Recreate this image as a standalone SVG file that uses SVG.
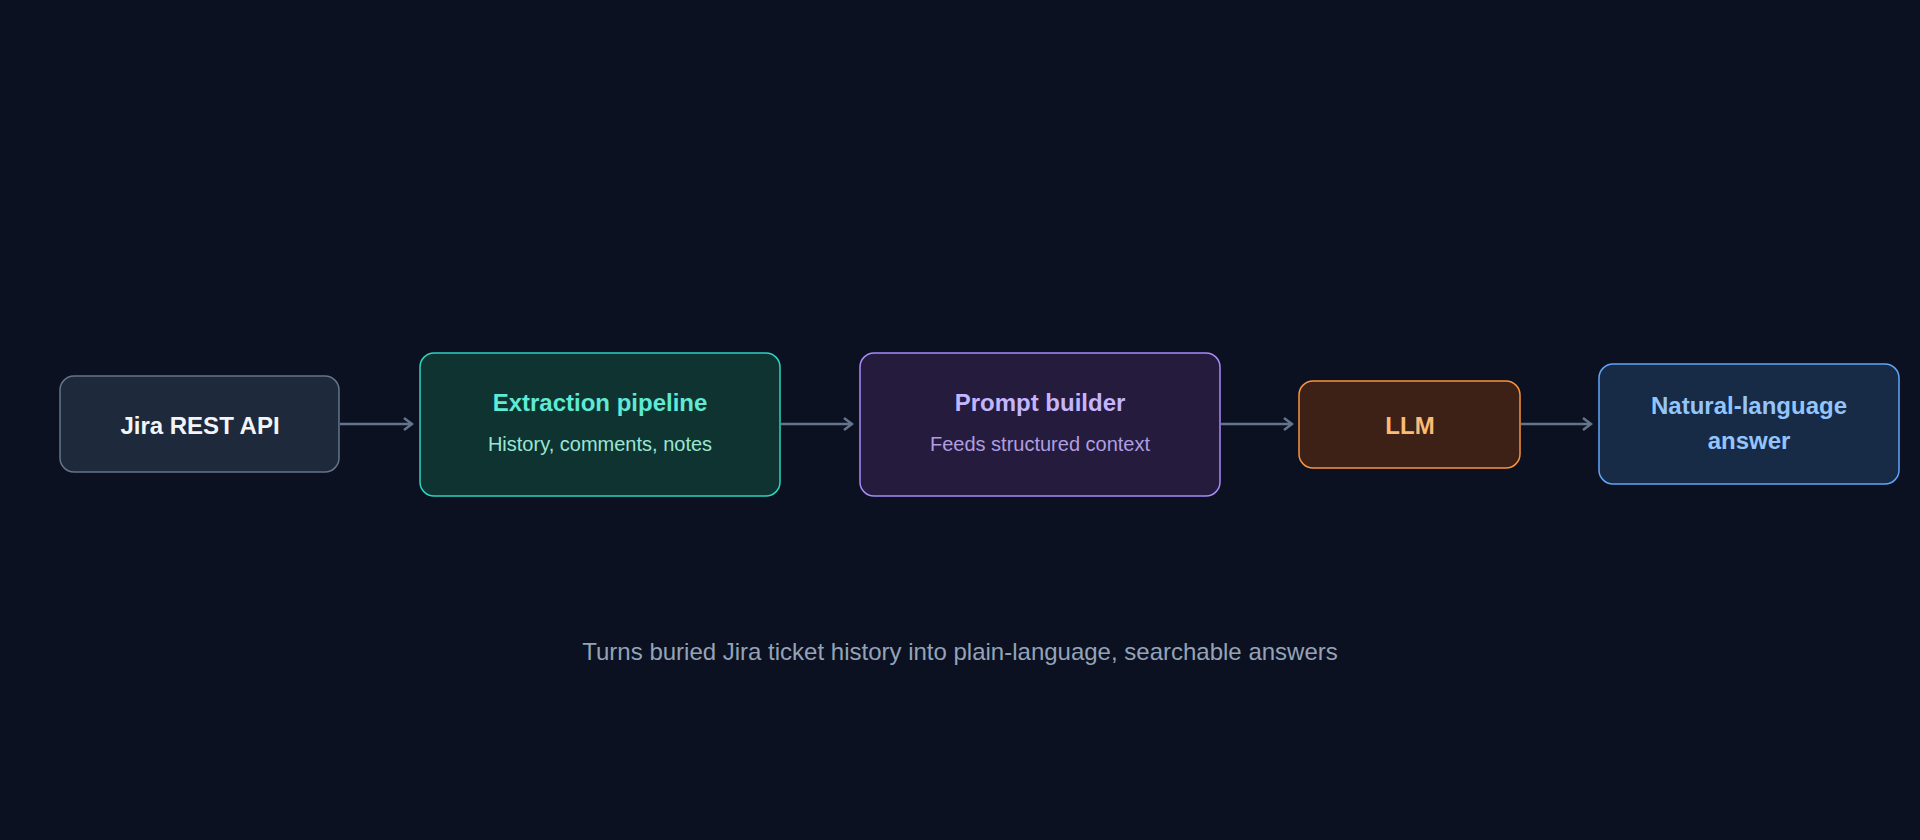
<svg xmlns="http://www.w3.org/2000/svg" width="1920" height="840" viewBox="0 0 1920 840">
<style>
text{font-family:"Liberation Sans",Arial,sans-serif;text-anchor:middle;dominant-baseline:central}
.t{font-size:24px;font-weight:bold}
.s{font-size:20px}
.c{stroke:#64748b;stroke-width:2.5;fill:none}
</style>
<defs><marker id="a" markerWidth="12" markerHeight="14" refX="10" refY="7" orient="auto" markerUnits="userSpaceOnUse"><path d="M2,1 L10,7 L2,13" fill="none" stroke="#64748b" stroke-width="2.5"/></marker></defs>
<rect width="1920" height="840" fill="#0b1120"/>
<g id="connectors">
<line class="c" x1="340" y1="424" x2="412" y2="424" marker-end="url(#a)"/>
<line class="c" x1="781" y1="424" x2="852" y2="424" marker-end="url(#a)"/>
<line class="c" x1="1221" y1="424" x2="1292" y2="424" marker-end="url(#a)"/>
<line class="c" x1="1521" y1="424" x2="1591" y2="424" marker-end="url(#a)"/>
</g>
<g id="jira"><rect x="60" y="376" width="279" height="96" rx="14" fill="#1e293b" stroke="#64748b" stroke-width="1.5"/><text class="t" x="200" y="425" fill="#f1f5f9">Jira REST API</text></g>
<g id="extraction"><rect x="420" y="353" width="360" height="143" rx="14" fill="#0f3330" stroke="#2dd4bf" stroke-width="1.5"/><text class="t" x="600" y="402" fill="#5eead4">Extraction pipeline</text><text class="s" x="600" y="444" fill="#99e6d4">History, comments, notes</text></g>
<g id="prompt"><rect x="860" y="353" width="360" height="143" rx="14" fill="#241b3d" stroke="#a78bfa" stroke-width="1.5"/><text class="t" x="1040" y="402" fill="#c4b5fd">Prompt builder</text><text class="s" x="1040" y="444" fill="#b09ee0">Feeds structured context</text></g>
<g id="llm"><rect x="1299" y="381" width="221" height="87" rx="14" fill="#3d2116" stroke="#fb923c" stroke-width="1.5"/><text class="t" x="1410" y="425" fill="#fdba74">LLM</text></g>
<g id="answer"><rect x="1599" y="364" width="300" height="120" rx="14" fill="#172a46" stroke="#60a5fa" stroke-width="1.5"/><text class="t" x="1749" y="405" fill="#93c5fd">Natural-language</text><text class="t" x="1749" y="440" fill="#93c5fd">answer</text></g>
<text x="960" y="651" font-size="24" fill="#94a3b8">Turns buried Jira ticket history into plain-language, searchable answers</text>
</svg>
